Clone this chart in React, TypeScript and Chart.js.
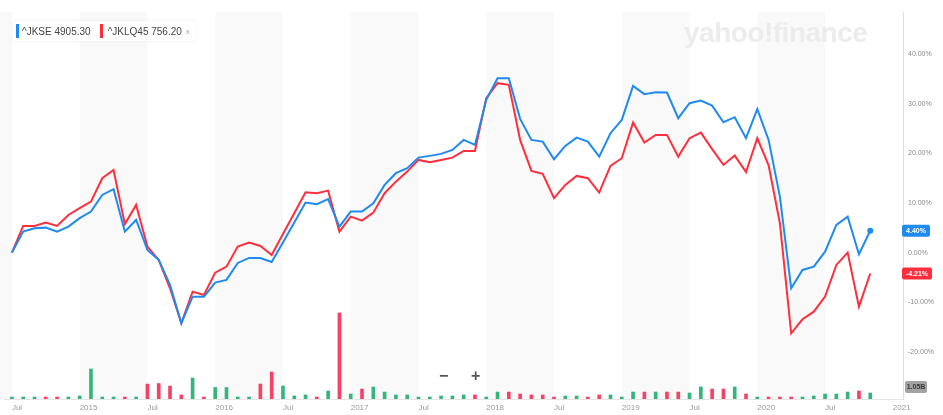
import React, { useEffect, useRef } from "react";
import { Chart, registerables } from "chart.js";

Chart.register(...registerables);

const months = [
  "2014-07","2014-08","2014-09","2014-10","2014-11","2014-12",
  "2015-01","2015-02","2015-03","2015-04","2015-05","2015-06","2015-07","2015-08","2015-09","2015-10","2015-11","2015-12",
  "2016-01","2016-02","2016-03","2016-04","2016-05","2016-06","2016-07","2016-08","2016-09","2016-10","2016-11","2016-12",
  "2017-01","2017-02","2017-03","2017-04","2017-05","2017-06","2017-07","2017-08","2017-09","2017-10","2017-11","2017-12",
  "2018-01","2018-02","2018-03","2018-04","2018-05","2018-06","2018-07","2018-08","2018-09","2018-10","2018-11","2018-12",
  "2019-01","2019-02","2019-03","2019-04","2019-05","2019-06","2019-07","2019-08","2019-09","2019-10","2019-11","2019-12",
  "2020-01","2020-02","2020-03","2020-04","2020-05","2020-06","2020-07","2020-08","2020-09","2020-10","2020-11",
];

// % change since first point
const jkse = [
  0, 4.23, 4.92, 5.04, 4.23, 5.24, 6.94, 8.27, 11.63, 12.78,
  4.23, 6.59, 0.54, -1.47, -6.51, -14.23, -8.87, -8.87, -6.05, -5.5,
  -2.08, -1.07, -1.07, -1.88, 2.04, 6.07, 10.08, 9.76, 10.77, 5.24,
  8.27, 8.27, 9.96, 13.65, 16.01, 17.02, 19.15, 19.5, 19.9, 20.7,
  22.72, 21.71, 30.79, 35.16, 35.16, 26.96, 22.72, 22.38, 18.83, 21.51,
  23.19, 22.38, 19.35, 24.07, 26.75, 33.61, 31.94, 32.34, 32.26, 27.1,
  30.12, 30.65, 29.64, 26.29, 27.3, 23.06, 28.91, 22.72, 11.29, -7.18,
  -3.49, -2.82, 0.2, 5.58, 7.26, -0.32, 4.40,
];

const jklq45 = [
  0, 5.38, 5.38, 6.05, 5.38, 7.6, 8.95, 10.28, 15.0, 16.67,
  5.79, 9.62, 1.21, -1.47, -7.18, -14.23, -7.86, -8.53, -4.03, -2.82,
  1.21, 2.02, 1.35, -0.46, 3.77, 7.94, 12.18, 11.98, 12.5, 4.23,
  7.26, 6.45, 8.06, 11.98, 14.31, 16.33, 18.69, 18.23, 18.69, 19.15,
  20.5, 20.5, 31.13, 34.15, 33.81, 22.72, 16.47, 15.87, 10.97, 13.65,
  15.46, 15.0, 12.1, 17.48, 19.03, 26.21, 22.18, 23.73, 23.73, 19.35,
  23.06, 24.19, 20.85, 17.68, 19.56, 16.23, 23.06, 17.58, 5.93, -16.25,
  -13.43, -11.9, -8.87, -2.48, 0, -10.89, -4.21,
];

// relative volume (tallest = 100)
const volume = [
  2.3, 2.3, 2.3, 2.3, 2.3, 2.3, 3.5, 34.9, 2.3, 2.3,
  2.3, 2.3, 17.4, 18, 15.1, 4.7, 24.4, 2.3, 13.4, 13.4,
  2.3, 2.3, 17.4, 31.4, 15.1, 3.5, 4.7, 2.3, 9.3, 100,
  5.8, 11.6, 14, 8.1, 4.7, 4.7, 2.3, 2.3, 3.5, 3.5,
  4.7, 4.7, 2.3, 8.1, 8.1, 5.8, 4.7, 4.7, 2.3, 3.5,
  3.5, 2.3, 4.7, 4.7, 2.3, 8.1, 8.1, 8.1, 8.1, 8.1,
  7, 14, 11.6, 11.6, 14, 5.8, 2.3, 2.3, 2.3, 2.3,
  2.3, 3.5, 5.8, 5.8, 8.1, 9.3, 7,
];

const volumeDir = [
  "g","g","g","r","r","g","g","g","g","g",
  "r","g","r","r","r","r","g","r","g","g",
  "g","g","r","r","g","g","g","r","g","r",
  "g","r","g","g","g","g","g","g","g","g",
  "g","r","g","g","r","r","r","r","r","g",
  "g","r","r","g","g","g","r","g","r","r",
  "g","g","r","r","g","r","g","r","r","r",
  "g","g","g","g","g","r","g",
];

const xTickDates = ["2014-07","2015-01","2015-07","2016-01","2016-07","2017-01","2017-07","2018-01","2018-07","2019-01","2019-07","2020-01","2020-07","2021-01"];
const xTickLabels = ["Jul","2015","Jul","2016","Jul","2017","Jul","2018","Jul","2019","Jul","2020","Jul","2021"];
const yTicks = [-20, -10, 0, 10, 20, 30, 40];
const shadedRanges = [["2014-01","2014-07"],["2015-01","2015-07"],["2016-01","2016-07"],["2017-01","2017-07"],["2018-01","2018-07"],["2019-01","2019-07"],["2020-01","2020-07"]];

const seriesNames = ["^JKSE", "^JKLQ45"];
const seriesPrices = ["4905.30", "756.20"];
const volumeBadge = "1.05B";

const BLUE = "#1f8af0";
const RED = "#ff2e3c";
const GREEN = "#35b57c";
const VRED = "#fb4163";

const monthIndex = (s: string) => {
  const [y, m] = s.split("-").map(Number);
  return (y - 2014) * 12 + (m - 1);
};

const FONT = '"Liberation Sans", Arial, sans-serif';

export default function App() {
  const ref = useRef<HTMLCanvasElement | null>(null);

  useEffect(() => {
    if (!ref.current) return;
    const xs = months.map(monthIndex);
    const lastI = months.length - 1;

    const bandPlugin = {
      id: "bands",
      beforeDatasetsDraw(chart: any) {
        const { ctx, chartArea, scales } = chart;
        ctx.save();
        ctx.beginPath();
        ctx.rect(0, chartArea.top, chartArea.right, chartArea.bottom - chartArea.top);
        ctx.clip();
        ctx.fillStyle = "rgba(0,0,0,0.022)";
        for (const [a, b] of shadedRanges) {
          const x1 = scales.x.getPixelForValue(monthIndex(a));
          const x2 = scales.x.getPixelForValue(monthIndex(b));
          ctx.fillRect(x1, chartArea.top, x2 - x1, chartArea.bottom - chartArea.top);
        }
        ctx.restore();
      },
    };

    const badgePlugin = {
      id: "badges",
      afterDraw(chart: any) {
        const { ctx, chartArea, scales } = chart;
        const draw = (text: string, cy: number, bg: string, fg: string, x: number, w: number) => {
          ctx.save();
          ctx.fillStyle = bg;
          ctx.beginPath();
          (ctx as any).roundRect(x, cy - 6, w, 12, 2);
          ctx.fill();
          ctx.fillStyle = fg;
          ctx.font = `bold 7px ${FONT}`;
          ctx.textAlign = "center";
          ctx.textBaseline = "middle";
          ctx.fillText(text, x + w / 2, cy + 0.5);
          ctx.restore();
        };
        const b = jkse[lastI];
        const r = jklq45[lastI];
        draw(`${b.toFixed(2)}%`, scales.y.getPixelForValue(b), BLUE, "#fff", chartArea.right - 1, 28);
        draw(`${r.toFixed(2)}%`, scales.y.getPixelForValue(r), RED, "#fff", chartArea.right - 1, 30);
        draw(volumeBadge, chartArea.bottom - 12, "#a3a3a3", "#3a3a3a", chartArea.right + 2, 22);
      },
    };

    const chart = new Chart(ref.current, {
      type: "line",
      data: {
        datasets: [
          {
            type: "line",
            label: seriesNames[0],
            data: xs.map((x, i) => ({ x, y: jkse[i] })),
            borderColor: BLUE,
            backgroundColor: BLUE,
            borderWidth: 2,
            pointRadius: (c: any) => (c.dataIndex === lastI ? 3 : 0),
            pointBorderWidth: 0,
            tension: 0,
            yAxisID: "y",
            order: 1,
          },
          {
            type: "line",
            label: seriesNames[1],
            data: xs.map((x, i) => ({ x, y: jklq45[i] })),
            borderColor: RED,
            backgroundColor: RED,
            borderWidth: 2,
            pointRadius: 0,
            tension: 0,
            yAxisID: "y",
            order: 2,
          },
          {
            type: "bar",
            label: "Volume",
            data: xs.map((x, i) => ({ x, y: volume[i] })),
            backgroundColor: volumeDir.map((d) => (d === "g" ? GREEN : VRED)),
            barThickness: 3,
            yAxisID: "yVol",
            order: 3,
          } as any,
        ],
      },
      options: {
        animation: false,
        responsive: false,
        devicePixelRatio: 1,
        layout: { padding: { top: 12, left: 0, right: 0, bottom: 0 } },
        plugins: { legend: { display: false }, tooltip: { enabled: false } },
        scales: {
          x: {
            type: "linear",
            position: "bottom",
            offset: false,
            min: 5.3,
            max: 84.9,
            afterBuildTicks: (s: any) => {
              s.ticks = xTickDates.map((d) => ({ value: monthIndex(d) }));
            },
            afterFit: (s: any) => {
              s.height = 16;
            },
            ticks: {
              autoSkip: false,
              maxRotation: 0,
              align: "start",
              padding: 4,
              color: "#9a9a9a",
              font: { size: 8, family: FONT },
              callback: (_v: any, i: number) => xTickLabels[i],
            },
            grid: { display: false, drawTicks: false, offset: false },
            border: { display: true, color: "#e4e4e4", width: 1 },
          },
          y: {
            type: "linear",
            position: "right",
            min: -29.5,
            max: 48.5,
            afterBuildTicks: (s: any) => {
              s.ticks = yTicks.map((v) => ({ value: v }));
            },
            afterFit: (s: any) => {
              s.width = 40;
            },
            ticks: {
              padding: 5,
              color: "#8a8a8a",
              font: { size: 7, family: FONT },
              callback: (v: any) => `${Number(v).toFixed(2)}%`,
            },
            grid: { display: false, drawTicks: false },
            border: { display: true, color: "#dedede", width: 1 },
          },
          yVol: {
            type: "linear",
            display: false,
            min: 0,
            max: 450,
          },
        },
      } as any,
      plugins: [bandPlugin, badgePlugin],
    });
    return () => chart.destroy();
  }, []);

  return (
    <div style={{ position: "fixed", left: 0, top: 0, width: 943, height: 415, background: "#fff", overflow: "hidden", fontFamily: FONT }}>
      <canvas ref={ref} width={943} height={415} style={{ position: "absolute", left: 0, top: 0, width: 943, height: 415 }} />
      <div style={{ position: "absolute", left: 13, top: 21, height: 20, display: "flex", alignItems: "center", background: "#fff", boxShadow: "0 0 3px rgba(0,0,0,0.08)", padding: "0 6px 0 3px", fontSize: 10, color: "#444", whiteSpace: "nowrap" }}>
        <span style={{ display: "inline-block", width: 3, height: 14, background: BLUE, marginRight: 3 }} />
        <span style={{ marginRight: 9 }}>{seriesNames[0]} {seriesPrices[0]}</span>
        <span style={{ display: "inline-block", width: 3, height: 14, background: RED, marginRight: 5 }} />
        <span style={{ marginRight: 4 }}>{seriesNames[1]} {seriesPrices[1]}</span>
        <span style={{ color: "#aaa", fontSize: 8 }}>x</span>
      </div>
      <div style={{ position: "absolute", left: 684, top: 15, fontSize: 28, fontWeight: 700, color: "#ececec", letterSpacing: -0.5, lineHeight: "36px" }}>
        yahoo!finance
      </div>
      <div style={{ position: "absolute", left: 439, top: 366, fontSize: 16, fontWeight: 700, color: "#555", lineHeight: "20px" }}>−</div>
      <div style={{ position: "absolute", left: 471, top: 366, fontSize: 16, fontWeight: 700, color: "#555", lineHeight: "20px" }}>+</div>
    </div>
  );
}
